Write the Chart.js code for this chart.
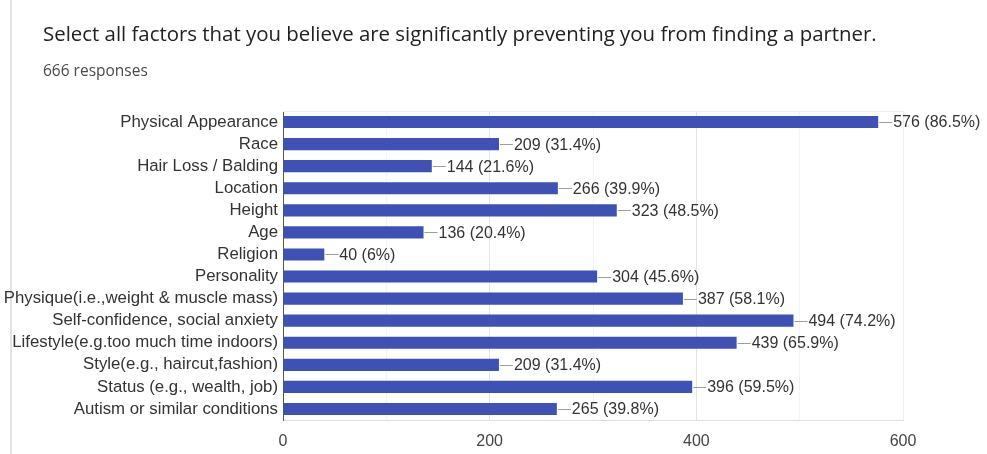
<!DOCTYPE html>
<html><head><meta charset="utf-8">
<script src="https://cdn.jsdelivr.net/npm/chart.js@4"></script>
<style>
html,body{margin:0;padding:0;background:#fff;width:987px;height:454px;overflow:hidden}
#wrap{position:relative;width:987px;height:454px}
#edge{position:absolute;left:10px;top:0;width:2px;height:454px;background:#e3e3e3}
#title{position:absolute;left:43px;top:20px;font-family:"Open Sans",Roboto,"Liberation Sans",Arial,sans-serif;font-size:20.4px;color:#202124;white-space:nowrap;line-height:26px}
#sub{position:absolute;left:43px;top:60px;font-family:"Open Sans",Roboto,"Liberation Sans",Arial,sans-serif;font-size:15.5px;color:#4a4a4a;white-space:nowrap;line-height:20px}
#box{position:absolute;left:0;top:0;width:987px;height:454px}
</style></head>
<body><div id="wrap">
<div id="edge"></div>
<div id="box"><canvas id="c"></canvas></div>
<div id="title">Select all factors that you believe are significantly preventing you from finding a partner.</div>
<div id="sub">666 responses</div>
</div>
<script>
const categories = ["Physical Appearance","Race","Hair Loss / Balding","Location","Height","Age","Religion","Personality","Physique(i.e.,weight & muscle mass)","Self-confidence, social anxiety","Lifestyle(e.g.too much time indoors)","Style(e.g., haircut,fashion)","Status (e.g., wealth, job)","Autism or similar conditions"];
const counts = [576,209,144,266,323,136,40,304,387,494,439,209,396,265];
const percents = ["86.5%","31.4%","21.6%","39.9%","48.5%","20.4%","6%","45.6%","58.1%","74.2%","65.9%","31.4%","59.5%","39.8%"];
const xTicks = [0,200,400,600];

const valueLabels = {
  id:'valueLabels',
  afterDatasetsDraw(chart){
    const ctx = chart.ctx;
    const meta = chart.getDatasetMeta(0);
    ctx.save();
    meta.data.forEach((bar,i)=>{
      const x = bar.x, y = bar.y;
      ctx.strokeStyle = '#9e9e9e';
      ctx.lineWidth = 1;
      ctx.beginPath();
      ctx.moveTo(x+1, Math.round(y)+0.5);
      ctx.lineTo(x+14, Math.round(y)+0.5);
      ctx.stroke();
      ctx.fillStyle = '#333';
      ctx.font = '16px "Liberation Sans", Arial, sans-serif';
      ctx.textAlign = 'left';
      ctx.textBaseline = 'middle';
      ctx.fillText(counts[i] + ' (' + percents[i] + ')', x+15, y+1);
    });
    ctx.restore();
  }
};
const frame = {
  id:'frame',
  beforeDatasetsDraw(chart){
    const a = chart.chartArea, ctx = chart.ctx;
    ctx.save();
    ctx.strokeStyle = '#eeeeee';
    ctx.lineWidth = 1;
    ctx.beginPath();
    ctx.moveTo(a.left, a.top+0.5); ctx.lineTo(a.right+0.5, a.top+0.5); ctx.lineTo(a.right+0.5, a.bottom);
    ctx.stroke();
    ctx.restore();
  }
};

new Chart(document.getElementById('c'), {
  type:'bar',
  data:{labels:categories, datasets:[{data:counts, backgroundColor:'#3f51b5', borderWidth:0, barPercentage:0.55, categoryPercentage:1}]},
  options:{
    indexAxis:'y', responsive:true, maintainAspectRatio:false, animation:false,
    layout:{padding:{left:0, top:111, right:84, bottom:0}},
    plugins:{legend:{display:false}, tooltip:{enabled:false}},
    scales:{
      x:{min:0, max:600,
         ticks:{stepSize:100, autoSkip:false, maxRotation:0, padding:12, color:'#444', font:{family:'"Liberation Sans", Arial, sans-serif', size:16},
                callback:(v)=> xTicks.includes(v) ? String(v) : ''},
         grid:{drawTicks:false, color:(c)=> (c.tick && c.tick.value % 200 === 0) ? '#e4e4e4' : '#f4f4f4'},
         border:{display:true, color:'#dddddd'},
         afterFit:(s)=>{ s.height = 34; }
      },
      y:{
         ticks:{padding:5, color:'#333', autoSkip:false, font:{family:'"Liberation Sans", Arial, sans-serif', size:16.8}},
         grid:{display:false, drawTicks:false},
         border:{display:true, color:'#555', width:1},
         afterFit:(s)=>{ s.width = 283; }
      }
    }
  },
  plugins:[frame, valueLabels]
});
</script>
</body></html>
